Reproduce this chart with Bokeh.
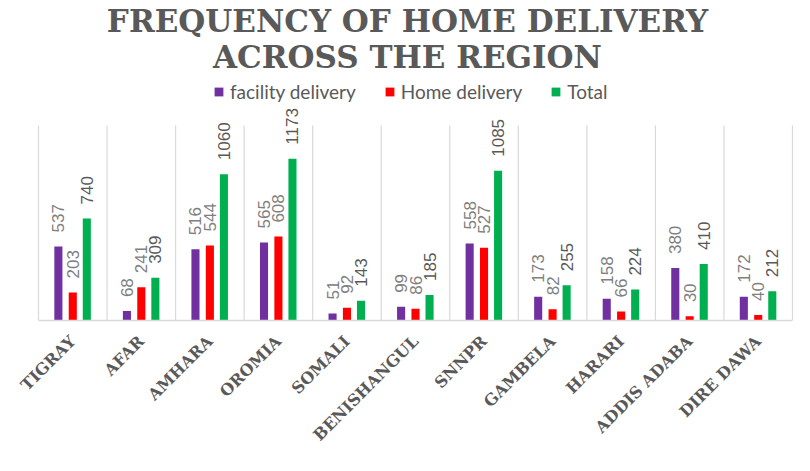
from math import pi
from bokeh.plotting import figure
from bokeh.models import (ColumnDataSource, Range1d, FixedTicker, Legend, LegendItem)
from bokeh.transform import dodge
from bokeh.core.properties import value
from bokeh.embed import file_html
from bokeh.resources import INLINE

# ---- data ----
regions = ["TIGRAY", "AFAR", "AMHARA", "OROMIA", "SOMALI", "BENISHANGUL",
           "SNNPR", "GAMBELA", "HARARI", "ADDIS ADABA", "DIRE DAWA"]
facility = [537, 68, 516, 565, 51, 99, 558, 173, 158, 380, 172]
home = [203, 241, 544, 608, 92, 86, 527, 82, 66, 30, 40]
total = [740, 309, 1060, 1173, 143, 185, 1085, 255, 224, 410, 212]
series_names = ["facility delivery", "Home delivery", "Total"]
title_lines = ["FREQUENCY OF HOME DELIVERY", "ACROSS THE REGION"]

colors = ["#7030A0", "#FF0000", "#00B050"]
offsets = [-0.21, 0.0, 0.205]
BAR_W = 0.118

W, H = 794, 455
FRAME_BOTTOM = 320            # px from top of figure
YS = 0.138                    # px per unit
Y_END = FRAME_BOTTOM / YS
X0_PX = 38                    # px of left separator
XS = (792 - X0_PX) / 11.0     # px per category

def py(px_from_top):
    return (FRAME_BOTTOM - px_from_top) / YS

def px_x(px):
    return -0.5 + (px - X0_PX) / XS

idx = list(range(len(regions)))
src = ColumnDataSource(dict(x=idx, facility=facility, home=home, total=total,
                            lf=[str(v) for v in facility],
                            lh=[str(v) for v in home],
                            lt=[str(v) for v in total]))

p = figure(width=W, height=H, output_backend="svg", toolbar_location=None,
           x_range=Range1d(px_x(0), px_x(W)), y_range=Range1d(0, Y_END),
           y_axis_location=None, min_border_left=0, min_border_right=0,
           min_border_top=0, min_border_bottom=H - FRAME_BOTTOM)
p.grid.visible = False
p.outline_line_color = None
p.background_fill_color = "white"

# category separators
sep_x = [i - 0.5 for i in range(len(regions) + 1)]
p.segment(x0=sep_x, y0=[0] * len(sep_x), x1=sep_x, y1=[py(125)] * len(sep_x),
          line_color="#D9D9D9", line_width=1.2)

renderers = []
for field, lab, col, off in zip(["facility", "home", "total"], ["lf", "lh", "lt"],
                                colors, offsets):
    r = p.vbar(x=dodge("x", off, range=p.x_range), top=field, width=BAR_W,
               source=src, fill_color=col, line_color=None)
    renderers.append(r)
    p.text(x=dodge("x", off, range=p.x_range), y=field, text=lab, source=src,
           angle=pi / 2, text_align="left", text_baseline="middle",
           y_offset=-14, text_font=value("Liberation Sans"),
           text_font_size="17px",
           text_color="#595959" if field == "total" else "#808080")

# title
tx = px_x(407)
p.text(x=[tx], y=[py(20)], text=[title_lines[0]], text_align="center",
       text_baseline="alphabetic", text_font=value("DejaVu Serif"),
       text_font_style="bold", text_font_size="31px", text_color="#595959")
p.text(x=[tx], y=[py(56)], text=[title_lines[1]], text_align="center",
       text_baseline="alphabetic", text_font=value("DejaVu Serif"),
       text_font_style="bold", text_font_size="31px", text_color="#595959")

# x axis
ax = p.xaxis[0]
ax.ticker = FixedTicker(ticks=idx)
ax.major_label_overrides = {i: r for i, r in zip(idx, regions)}
ax.major_label_orientation = pi / 4
ax.axis_line_color = "#D9D9D9"
ax.axis_line_width = 1.5
ax.bounds = (-0.5, len(regions) - 0.5)
ax.major_tick_line_color = None
ax.minor_tick_line_color = None
ax.major_label_standoff = 12
ax.major_label_text_font = "DejaVu Serif"
ax.major_label_text_font_style = "bold"
ax.major_label_text_font_size = "16px"
ax.major_label_text_color = "#595959"

legend = Legend(items=[LegendItem(label=n, renderers=[r]) for n, r in zip(series_names, renderers)],
                orientation="horizontal", location=(213, 217),
                padding=0, margin=0, spacing=28, glyph_width=11, glyph_height=11,
                label_standoff=6, border_line_color=None, background_fill_alpha=0,
                label_text_font="Lato", label_text_font_size="19px",
                label_text_color="#595959")
p.add_layout(legend)

open("out.html", "w").write(file_html(p, INLINE))
